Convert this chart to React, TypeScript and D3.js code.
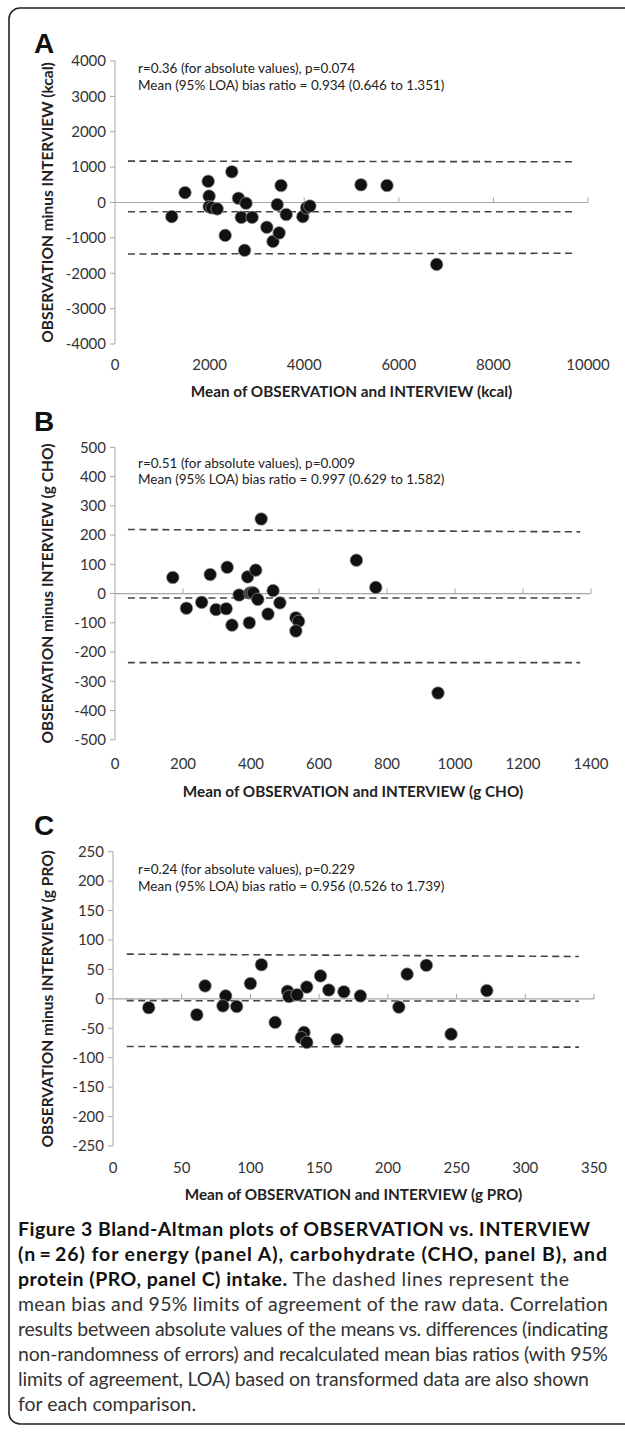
import React from 'react';
import * as d3 from 'd3';

// panel A: energy (kcal)
const energyMean = [1200, 1480, 1970, 1990, 1990, 2050, 2160, 2470, 2330, 2610, 2770, 2670, 2900, 2740, 3210, 3340, 3430, 3470, 3510, 3620, 3970, 4050, 4120, 5200, 5750, 6800];
const energyDiff = [-400, 280, 600, 180, -120, -150, -180, 870, -930, 120, -20, -420, -420, -1350, -700, -1100, -60, -860, 480, -340, -400, -150, -100, 500, 480, -1750];
const energyXTicks = [0, 2000, 4000, 6000, 8000, 10000];
const energyYTicks = [4000, 3000, 2000, 1000, 0, -1000, -2000, -3000, -4000];
const energyLoaX = [275, 9750];
const energyUpper = [1170, 1150];
const energyBias = [-260, -260];
const energyLower = [-1455, -1435];
const energyNotes = ['r=0.36 (for absolute values), p=0.074', 'Mean (95% LOA) bias ratio = 0.934 (0.646 to 1.351)'];

// panel B: carbohydrate (g CHO)
const choMean = [170, 210, 255, 280, 297, 330, 327, 344, 365, 390, 395, 397, 402, 407, 414, 420, 430, 450, 465, 485, 532, 540, 532, 710, 767, 950];
const choDiff = [55, -50, -30, 65, -55, 90, -52, -108, -5, 57, -100, 2, 3, 2, 80, -20, 255, -70, 10, -32, -83, -95, -128, 114, 21, -340];
const choXTicks = [0, 200, 400, 600, 800, 1000, 1200, 1400];
const choYTicks = [500, 400, 300, 200, 100, 0, -100, -200, -300, -400, -500];
const choLoaX = [38, 1368];
const choUpper = [219, 211];
const choBias = [-15, -15];
const choLower = [-236, -236];
const choNotes = ['r=0.51 (for absolute values), p=0.009', 'Mean (95% LOA) bias ratio = 0.997 (0.629 to 1.582)'];

// panel C: protein (g PRO)
const proMean = [26, 61, 67, 82, 80, 90, 100, 108, 118, 127, 128, 134, 141, 139, 137, 141, 151, 157, 163, 168, 180, 208, 214, 228, 246, 272];
const proDiff = [-15, -27, 22, 5, -12, -13, 26, 58, -40, 13, 4, 7, 20, -57, -66, -74, 39, 15, -69, 12, 5, -14, 42, 57, -60, 14];
const proXTicks = [0, 50, 100, 150, 200, 250, 300, 350];
const proYTicks = [250, 200, 150, 100, 50, 0, -50, -100, -150, -200, -250];
const proLoaX = [10, 339];
const proUpper = [76, 72];
const proBias = [-3, -4];
const proLower = [-81, -82];
const proNotes = ['r=0.24 (for absolute values), p=0.229', 'Mean (95% LOA) bias ratio = 0.956 (0.526 to 1.739)'];

const captionBold = [
  'Figure 3 Bland-Altman plots of OBSERVATION vs. INTERVIEW',
  '(n\u2009=\u200926) for energy (panel A), carbohydrate (CHO, panel B), and',
  'protein (PRO, panel C) intake.',
];
const captionText = [
  ' The dashed lines represent the',
  'mean bias and 95% limits of agreement of the raw data. Correlation',
  'results between absolute values of the means vs. differences (indicating',
  'non-randomness of errors) and recalculated mean bias ratios (with 95%',
  'limits of agreement, LOA) based on transformed data are also shown',
  'for each comparison.',
];
// right edge of each caption line as set in the figure
const captionRight = [590, 607, 569, 608, 608, 608, 589, 0];

const FONT = 'Lato, "Open Sans", sans-serif';
const AXIS = '#a6a6a6';
const INK = '#333';

function Panel(props: any) {
  const { label, labelY, x0, x1, yTop, yBot, xDomain, yDomain, xTicks, yTicks,
    xs, ys, loaX, upper, bias, lower, notes, noteY, xTitle, yTitle, xLabelY, xTitleY } = props;

  const x = d3.scaleLinear().domain(xDomain).range([x0, x1]);
  const y = d3.scaleLinear().domain(yDomain).range([yBot, yTop]);
  const line = d3.line<number[]>().x(d => x(d[0])).y(d => y(d[1]));
  const dashed = [upper, bias, lower].map(v => line([[loaX[0], v[0]], [loaX[1], v[1]]]));

  return (
    <g>
      <text x={34} y={labelY} fontFamily="'Liberation Sans', Arial, sans-serif" fontWeight="bold" fontSize={28} fill="#111">{label}</text>

      {/* y axis */}
      <line x1={x0} x2={x0} y1={y(yDomain[1])} y2={y(yDomain[0])} stroke={AXIS} strokeWidth={1} />
      {yTicks.map((t: number) => (
        <g key={'y' + t}>
          <line x1={x0 - 5} x2={x0} y1={y(t)} y2={y(t)} stroke={AXIS} />
          <text x={x0 - 9} y={y(t)} dy="0.35em" textAnchor="end" fontFamily={FONT} fontSize={15} fill={INK}>{t}</text>
        </g>
      ))}

      {/* x axis at zero, labels low */}
      <line x1={x0} x2={x1} y1={y(0)} y2={y(0)} stroke={AXIS} strokeWidth={1.2} />
      {xTicks.map((t: number) => (
        <g key={'x' + t}>
          {t !== 0 && <line x1={x(t)} x2={x(t)} y1={y(0)} y2={y(0) - 5} stroke={AXIS} />}
          <text x={x(t)} y={xLabelY} textAnchor="middle" fontFamily={FONT} fontSize={15} fill={INK}>{t}</text>
        </g>
      ))}

      {dashed.map((d, i) => (
        <path key={'d' + i} d={d || ''} fill="none" stroke="#444" strokeWidth={1.6} strokeDasharray="7,4.5" />
      ))}

      {xs.map((v: number, i: number) => (
        <circle key={'p' + i} cx={x(v)} cy={y(ys[i])} r={6.3} fill="#111" stroke="#999" strokeWidth={0.7} />
      ))}

      {notes.map((n: string, i: number) => (
        <text key={'n' + i} x={138} y={noteY + i * 16.5} fontFamily={FONT} fontSize={13.5} fill="#222">{n}</text>
      ))}

      <text x={(x0 + x1) / 2} y={xTitleY} textAnchor="middle" fontFamily={FONT} fontWeight="bold" fontSize={15.3} fill="#222">{xTitle}</text>
      <text transform={`translate(48, ${(yTop + yBot) / 2}) rotate(-90)`} textAnchor="middle" dy="0.35em"
        fontFamily={FONT} fontWeight="bold" fontSize={15.5} fill="#222">{yTitle}</text>
    </g>
  );
}

export default function App() {
  const capX = 18;
  const capY0 = 1236;
  const capStep = 25;
  const fit = (i: number) => (captionRight[i] ? { textLength: captionRight[i] - capX, lengthAdjust: 'spacing' } : {});
  return (
    <svg width={625} height={1432} style={{ position: 'absolute', left: 0, top: 0, background: '#fff' }}>
      <rect x={9} y={8} width={650} height={1416} rx={11} fill="#fff" stroke="#222" strokeWidth={1.6} />

      <Panel label="A" labelY={53} x0={115} x1={588} yTop={61} yBot={344}
        xDomain={[0, 10000]} yDomain={[-4000, 4000]} xTicks={energyXTicks} yTicks={energyYTicks}
        xs={energyMean} ys={energyDiff} loaX={energyLoaX} upper={energyUpper} bias={energyBias} lower={energyLower}
        notes={energyNotes} noteY={73} xLabelY={370} xTitleY={397}
        xTitle="Mean of OBSERVATION and INTERVIEW (kcal)" yTitle="OBSERVATION minus INTERVIEW (kcal)" />

      <Panel label="B" labelY={431} x0={115} x1={591} yTop={447.3} yBot={739.8}
        xDomain={[0, 1400]} yDomain={[-500, 500]} xTicks={choXTicks} yTicks={choYTicks}
        xs={choMean} ys={choDiff} loaX={choLoaX} upper={choUpper} bias={choBias} lower={choLower}
        notes={choNotes} noteY={467.5} xLabelY={769} xTitleY={797}
        xTitle="Mean of OBSERVATION and INTERVIEW (g CHO)" yTitle="OBSERVATION minus INTERVIEW (g CHO)" />

      <Panel label="C" labelY={835} x0={113} x1={594} yTop={851.7} yBot={1146}
        xDomain={[0, 350]} yDomain={[-250, 250]} xTicks={proXTicks} yTicks={proYTicks}
        xs={proMean} ys={proDiff} loaX={proLoaX} upper={proUpper} bias={proBias} lower={proLower}
        notes={proNotes} noteY={874} xLabelY={1173} xTitleY={1200}
        xTitle="Mean of OBSERVATION and INTERVIEW (g PRO)" yTitle="OBSERVATION minus INTERVIEW (g PRO)" />

      <g fontFamily={FONT} fontSize={19.5}>
        {captionBold.map((s, i) => (
          <text key={'cb' + i} x={capX} y={capY0 + i * capStep} fill="#111" fontWeight="bold" {...fit(i)}>
            {s}
            {i === 2 && <tspan fontWeight="normal" fill="#333">{captionText[0]}</tspan>}
          </text>
        ))}
        {captionText.slice(1).map((s, i) => (
          <text key={'ct' + i} x={capX} y={capY0 + (i + 3) * capStep} fill="#333" {...fit(i + 3)}>{s}</text>
        ))}
      </g>
    </svg>
  );
}
